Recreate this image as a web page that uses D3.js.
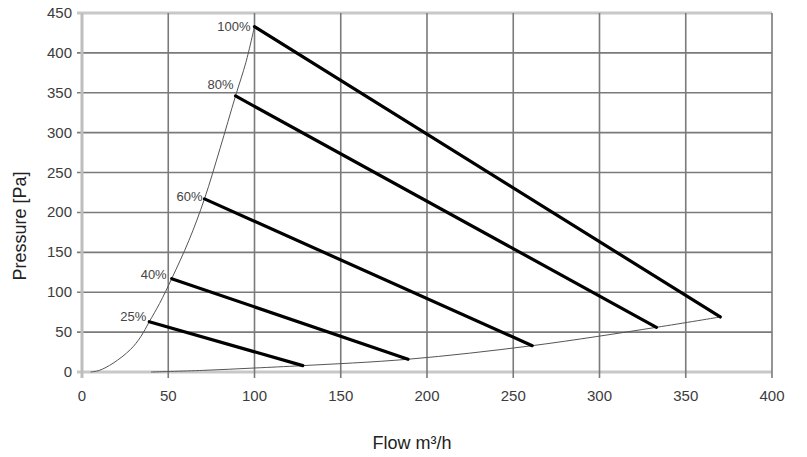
<!DOCTYPE html>
<html>
<head>
<meta charset="utf-8">
<script src="https://cdn.jsdelivr.net/npm/d3@7"></script>
<style>
  html, body { margin: 0; padding: 0; background: #fff; }
  svg { display: block; font-family: "Liberation Sans", Arial, sans-serif; }
</style>
</head>
<body>
<svg id="chart" width="807" height="457"></svg>
<script>
// ---- data ----
const speedLabels = ["100%", "80%", "60%", "40%", "25%"];
const lineStartFlow = [100, 89, 71, 52, 39];
const lineStartPressure = [433, 346, 217, 117, 63];
const lineEndFlow = [370, 333, 261, 189, 128];
const lineEndPressure = [69, 56, 33, 16, 8];

const upperCurveFlow = [5, 10, 18, 28, 34, 39, 45, 52, 62, 71, 80, 89, 95, 100];
const upperCurvePressure = [0, 2, 11, 28, 44, 63, 86, 117, 165, 217, 280, 346, 388, 433];

const lowerCurveFlow = [40, 70, 100, 128, 189, 261, 333, 370];
const lowerCurvePressure = [0, 2, 5, 8, 16, 33, 56, 69];

const xTicks = [0, 50, 100, 150, 200, 250, 300, 350, 400];
const yTicks = [0, 50, 100, 150, 200, 250, 300, 350, 400, 450];

const xTitle = "Flow m³/h";
const yTitle = "Pressure [Pa]";

// ---- layout ----
const plotLeft = 82, plotRight = 772, plotTop = 13, plotBottom = 372;
const labelOffsets = [[-4, 4], [-2, -7], [-2, 2], [-5, 0], [-3, -1]];

const svg = d3.select("#chart");
const x = d3.scaleLinear().domain([0, 400]).range([plotLeft, plotRight]);
const y = d3.scaleLinear().domain([0, 450]).range([plotBottom, plotTop]);

// grid
const grid = svg.append("g");
grid.selectAll("line.h").data(yTicks).join("line")
  .attr("x1", plotLeft - 5).attr("x2", plotRight)
  .attr("y1", d => y(d)).attr("y2", d => y(d))
  .attr("stroke", d => (d === 0 || d === 450) ? "#c8c8c8" : "#7a7a7a")
  .attr("stroke-width", d => (d === 0 || d === 450) ? 3 : 1.6);
grid.selectAll("line.v").data(xTicks).join("line")
  .attr("x1", d => x(d)).attr("x2", d => x(d))
  .attr("y1", plotTop).attr("y2", plotBottom + 6)
  .attr("stroke", d => (d === 0) ? "#bdbdbd" : "#7a7a7a")
  .attr("stroke-width", d => (d === 0) ? 3 : 1.6);

// tick labels
svg.append("g").selectAll("text").data(yTicks).join("text")
  .attr("x", plotLeft - 10).attr("y", d => y(d) + 5)
  .attr("text-anchor", "end")
  .attr("font-size", 15).attr("fill", "#3c3c3c")
  .text(d => d);
svg.append("g").selectAll("text").data(xTicks).join("text")
  .attr("x", d => x(d)).attr("y", plotBottom + 29)
  .attr("text-anchor", "middle")
  .attr("font-size", 15).attr("fill", "#3c3c3c")
  .text(d => d);

// axis titles
svg.append("text").attr("x", 412).attr("y", 449)
  .attr("text-anchor", "middle").attr("font-size", 18).attr("fill", "#222")
  .text(xTitle);
svg.append("text")
  .attr("transform", "translate(26,226) rotate(-90)")
  .attr("text-anchor", "middle").attr("font-size", 18).attr("fill", "#222")
  .text(yTitle);

// thin curves
const line = d3.line().x(d => x(d[0])).y(d => y(d[1])).curve(d3.curveCatmullRom);
svg.append("path")
  .datum(upperCurveFlow.map((f, i) => [f, upperCurvePressure[i]]))
  .attr("d", line).attr("fill", "none").attr("stroke", "#555").attr("stroke-width", 1);
svg.append("path")
  .datum(lowerCurveFlow.map((f, i) => [f, lowerCurvePressure[i]]))
  .attr("d", line).attr("fill", "none").attr("stroke", "#555").attr("stroke-width", 1);

// speed lines
svg.append("g").selectAll("line").data(speedLabels).join("line")
  .attr("x1", (d, i) => x(lineStartFlow[i])).attr("y1", (d, i) => y(lineStartPressure[i]))
  .attr("x2", (d, i) => x(lineEndFlow[i])).attr("y2", (d, i) => y(lineEndPressure[i]))
  .attr("stroke", "#000").attr("stroke-width", 3.2).attr("stroke-linecap", "round");

// labels
svg.append("g").selectAll("text").data(speedLabels).join("text")
  .attr("x", (d, i) => x(lineStartFlow[i]) + labelOffsets[i][0])
  .attr("y", (d, i) => y(lineStartPressure[i]) + labelOffsets[i][1])
  .attr("text-anchor", "end").attr("font-size", 13).attr("fill", "#444")
  .text(d => d);
</script>
</body>
</html>
